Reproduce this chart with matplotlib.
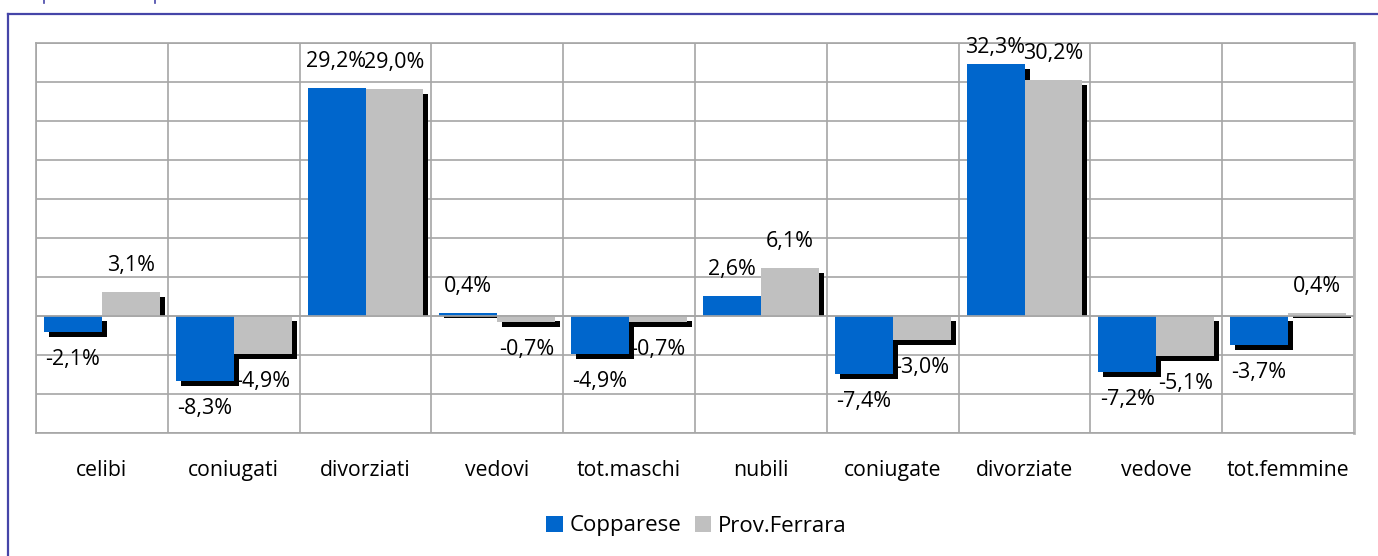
import matplotlib
matplotlib.use("Agg")
import matplotlib.pyplot as plt
from matplotlib.lines import Line2D
from matplotlib.patches import Patch
from matplotlib.transforms import blended_transform_factory

# ------------------------------------------------------------------
# Data (variation % by marital status, Copparese vs Prov. Ferrara)
# ------------------------------------------------------------------
categories = ["celibi", "coniugati", "divorziati", "vedovi", "tot.maschi",
              "nubili", "coniugate", "divorziate", "vedove", "tot.femmine"]
copparese = [-2.1, -8.3, 29.2, 0.4, -4.9, 2.6, -7.4, 32.3, -7.2, -3.7]
ferrara = [3.1, -4.9, 29.0, -0.7, -0.7, 6.1, -3.0, 30.2, -5.1, 0.4]
series_names = ["Copparese", "Prov.Ferrara"]

BLUE = "#0066cc"
GRAY = "#c0c0c0"
GRID = "#a6a6a6"
FONT = "Open Sans"

W, H, DPI = 1378, 556, 100
fig = plt.figure(figsize=(W / DPI, H / DPI), dpi=DPI)
plt.rcParams["font.family"] = [FONT, "DejaVu Sans"]

# plot area in pixels: left 36, right 1354, top 42.5, bottom 433.3
ax_l, ax_r, ax_t, ax_b = 36, 1354, 42.5, 433.3
ax = fig.add_axes([ax_l / W, 1 - ax_b / H, (ax_r - ax_l) / W, (ax_b - ax_t) / H])

ymin, ymax = -15, 35
ax.set_xlim(-0.5, len(categories) - 0.5)
ax.set_ylim(ymin, ymax)

px_per_x = (ax_r - ax_l) / len(categories)
px_per_y = (ax_b - ax_t) / (ymax - ymin)
shadow_px = 5
sdx = shadow_px / px_per_x
sdy = shadow_px / px_per_y

bw = 0.44
xs = list(range(len(categories)))

for vals, color, shift in [(copparese, BLUE, -bw / 2), (ferrara, GRAY, bw / 2)]:
    # drop shadow (black), drawn under the bars
    for x, v in zip(xs, vals):
        if v >= 0:
            ax.bar(x + shift + sdx, v - sdy, bw, bottom=0, color="black",
                   linewidth=0, zorder=2)
        else:
            ax.bar(x + shift + sdx, v, bw, bottom=-sdy, color="black",
                   linewidth=0, zorder=2)

for vals, color, shift in [(copparese, BLUE, -bw / 2), (ferrara, GRAY, bw / 2)]:
    ax.bar([x + shift for x in xs], vals, bw, color=color, linewidth=0, zorder=3)
    for x, v in zip(xs, vals):
        txt = f"{v:.1f}".replace(".", ",") + "%"
        if v >= 0:
            y = v + 21 / px_per_y
            y = min(y, ymax - 10.8 / px_per_y)
        else:
            y = v - 33 / px_per_y
        ax.text(x + shift, y, txt, ha="center", va="baseline",
                fontsize=15.5, color="black", zorder=5)

# grid: horizontal every 5%, vertical at category boundaries
for yv in range(ymin, ymax + 1, 5):
    ax.axhline(yv, color=GRID, linewidth=1.2, zorder=1)
for xb in range(len(categories) + 1):
    ax.axvline(xb - 0.5, color=GRID, linewidth=1.2, zorder=1)
ax.axhline(0, color=GRID, linewidth=1.2, zorder=4)

ax.set_xticks([])
ax.set_yticks([])
for side in ["left", "top", "bottom"]:
    ax.spines[side].set_color(GRID)
    ax.spines[side].set_linewidth(1.2)
ax.spines["right"].set_color("#b8b8b8")
ax.spines["right"].set_linewidth(2)

# category labels under the plot
tr = blended_transform_factory(ax.transData, ax.transAxes)
lab_y = -(476 - ax_b) / (ax_b - ax_t)
for x, name in zip(xs, categories):
    ax.text(x, lab_y, name, transform=tr, ha="center", va="baseline",
            fontsize=15.3, color="black")

# legend
handles = [Patch(facecolor=BLUE, edgecolor="none"),
           Patch(facecolor=GRAY, edgecolor="none")]
fig.legend(handles, series_names, loc="center", bbox_to_anchor=(696.5 / W, 1 - 526 / H),
           ncol=2, frameon=False, fontsize=16, handlelength=0.75, handleheight=0.75,
           handletextpad=0.3, columnspacing=0.6, borderpad=0)

# outer chart frame (clipped by the image at right/bottom)
frame_c = "#4545a8"
fig.add_artist(Line2D([8 / W, 1.0], [1 - 14 / H, 1 - 14 / H], color=frame_c, linewidth=1.6))
fig.add_artist(Line2D([8 / W, 8 / W], [1 - 14 / H, 0.0], color=frame_c, linewidth=1.6))
# bits of the cut-off title above the frame
for tx in [43.5, 154.5]:
    fig.add_artist(Line2D([tx / W, tx / W], [1.0, 1 - 2.8 / H], color=frame_c, linewidth=1.2))

fig.savefig("out.png", dpi=DPI)
